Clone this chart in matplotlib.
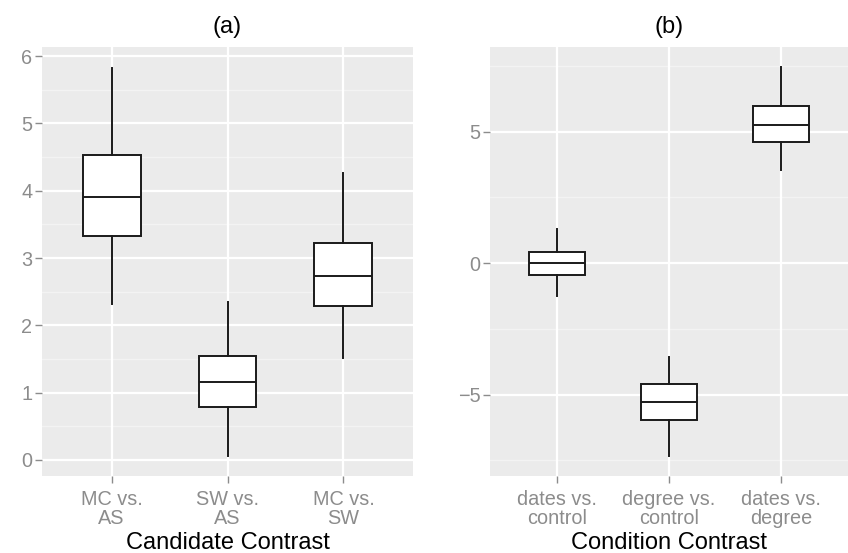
import matplotlib
matplotlib.use("Agg")
import matplotlib.pyplot as plt

plt.rcParams['font.family'] = ['Liberation Sans', 'DejaVu Sans']

# Panel (a)
cats_a = ["MC vs.\nAS", "SW vs.\nAS", "MC vs.\nSW"]
whislo_a = [2.32, 0.06, 1.51]
q1_a = [3.33, 0.79, 2.29]
med_a = [3.91, 1.16, 2.74]
q3_a = [4.53, 1.55, 3.22]
whishi_a = [5.83, 2.34, 4.26]
yticks_a = [0, 1, 2, 3, 4, 5, 6]

# Panel (b)
cats_b = ["dates vs.\ncontrol", "degree vs.\ncontrol", "dates vs.\ndegree"]
whislo_b = [-1.23, -7.33, 3.55]
q1_b = [-0.44, -5.96, 4.59]
med_b = [0.0, -5.27, 5.26]
q3_b = [0.44, -4.61, 5.98]
whishi_b = [1.31, -3.57, 7.45]
yticks_b = [-5, 0, 5]
ytick_labels_b = ["\u22125", "0", "5"]

BG = "#EBEBEB"
MINOR = "#F3F3F3"
TICKC = "#8C8C8C"

fig = plt.figure(figsize=(8.48, 5.53), dpi=100)
ax_a = fig.add_axes([42/848, 77/553, (413-42)/848, (476-47)/553])
ax_b = fig.add_axes([490/848, 77/553, (848-490)/848, (476-47)/553])


def draw(ax, cats, wl, q1, med, q3, wh, ylim, yticks, yticklabels, minor, title, xlabel):
    stats = []
    for i in range(len(cats)):
        stats.append(dict(whislo=wl[i], q1=q1[i], med=med[i], q3=q3[i], whishi=wh[i], fliers=[]))
    ax.set_facecolor(BG)
    for y in minor:
        ax.axhline(y, color=MINOR, lw=0.9, zorder=0.5)
    for y in yticks:
        ax.axhline(y, color="white", lw=1.6, zorder=0.6)
    for x in range(1, len(cats) + 1):
        ax.axvline(x, color="white", lw=1.6, zorder=0.6)
    ax.bxp(stats, positions=range(1, len(cats) + 1), widths=0.5, patch_artist=True,
           showcaps=False, showfliers=False,
           boxprops=dict(facecolor="white", edgecolor="#1a1a1a", lw=1.4),
           medianprops=dict(color="#1a1a1a", lw=1.4),
           whiskerprops=dict(color="#1a1a1a", lw=1.4), zorder=3)
    ax.set_xlim(0.4, len(cats) + 0.6)
    ax.set_ylim(*ylim)
    ax.set_yticks(yticks)
    ax.set_yticklabels(yticklabels)
    ax.set_xticks(range(1, len(cats) + 1))
    ax.set_xticklabels(cats, linespacing=1.0)
    for s in ax.spines.values():
        s.set_visible(False)
    ax.tick_params(axis="both", colors=TICKC, labelcolor=TICKC, labelsize=14.3,
                   length=5, width=1, direction="out", pad=2)
    ax.tick_params(axis="x", pad=5)
    ax.set_title(title, fontsize=17, pad=10)
    ax.set_xlabel(xlabel, fontsize=17, labelpad=3)


draw(ax_a, cats_a, whislo_a, q1_a, med_a, q3_a, whishi_a, (-0.238, 6.135),
     yticks_a, [str(v) for v in yticks_a], [0.5, 1.5, 2.5, 3.5, 4.5, 5.5],
     "(a)", "Candidate Contrast")
draw(ax_b, cats_b, whislo_b, q1_b, med_b, q3_b, whishi_b, (-8.09, 8.22),
     yticks_b, ytick_labels_b, [-7.5, -2.5, 2.5, 7.5],
     "(b)", "Condition Contrast")

fig.savefig("out.png", dpi=100)
